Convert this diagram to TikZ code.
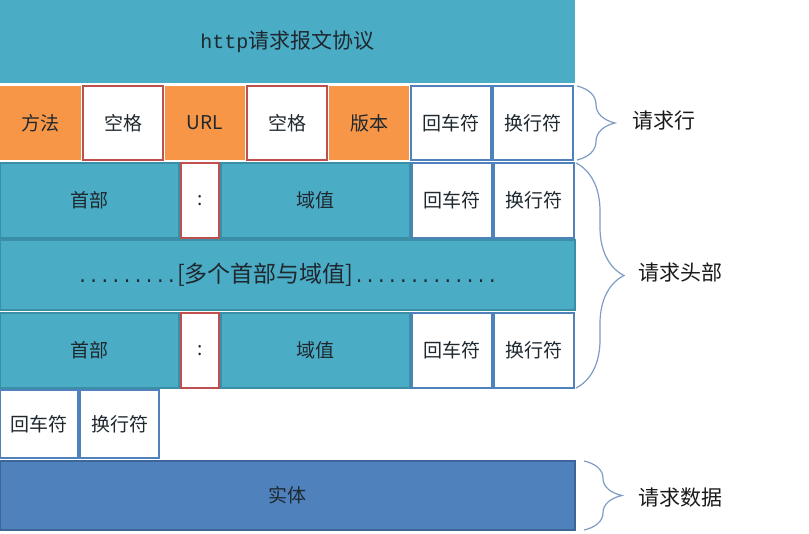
\documentclass[tikz,border=0pt]{standalone}
\usepackage{fontspec}
\setmainfont{Noto Sans CJK SC}
\newfontfamily\mono{Liberation Mono}
\usetikzlibrary{positioning,decorations.pathreplacing}

\definecolor{tealfill}{HTML}{4BACC6}
\definecolor{tealline}{HTML}{3A8EA6}
\definecolor{orangefill}{HTML}{F79646}
\definecolor{redline}{HTML}{C0504D}
\definecolor{blueline}{HTML}{4F81BD}
\definecolor{bodyfill}{HTML}{4F81BD}
\definecolor{bodyline}{HTML}{3C6699}
\definecolor{braceline}{HTML}{7E9CC4}
\definecolor{celltext}{HTML}{1E282E}
\definecolor{labeltext}{HTML}{1A1A1A}

\begin{document}
\begin{tikzpicture}[x=1pt,y=-1pt,
	node distance=2pt,
	cell/.style={minimum height=74pt, inner sep=0pt, outer sep=0pt, text=celltext, font=\fontsize{19}{19}\selectfont},
	orangecell/.style={cell, fill=orangefill, minimum width=80pt},
	spacecell/.style={cell, fill=white, draw=redline, line width=2pt, minimum width=80pt},
	crlfcell/.style={cell, fill=white, draw=blueline, line width=2pt, minimum width=80pt},
	tealcell/.style={cell, fill=tealfill, draw=tealline, line width=1.5pt},
	curly/.style={draw=braceline, line width=1.2pt, decorate, decoration={brace, amplitude=#1}},
	bracelabel/.style={anchor=west, inner sep=0pt, text=labeltext, font=\fontsize{21}{21}\selectfont}
	]
	\useasboundingbox (0,0) rectangle (809,534);
	
	% 1. 顶部标题
	\node [cell, fill=tealfill, anchor=north west, minimum width=575pt, minimum height=83pt,
		font=\fontsize{21}{21}\selectfont] (title) at (0,0) {{\mono\fontsize{20}{20}\selectfont http}请求报文协议};
	
	% 2. 请求行
	\node [orangecell, below=3pt of title.south west, anchor=north west, minimum width=81pt] (method) {方法};
	\node [spacecell, right=of method] (sp1) {空格};
	\node [orangecell, right=of sp1] (url) {URL};
	\node [spacecell, right=of url] (sp2) {空格};
	\node [orangecell, right=of sp2] (ver) {版本};
	\node [crlfcell, right=of ver] (cr1) {回车符};
	\node [crlfcell, right=of cr1] (lf1) {换行符};
	
	% 3. 请求头部（首部 : 域值 回车符 换行符）
	\node [tealcell, below=3pt of method.south west, anchor=north west, minimum width=179pt, minimum height=75pt] (hd1) {首部};
	\node [spacecell, right=of hd1, minimum width=38pt, minimum height=75pt] (col1) {:};
	\node [tealcell, right=of col1, minimum width=189pt, minimum height=75pt] (val1) {域值};
	\node [crlfcell, right=of val1, minimum height=75pt] (cr2) {回车符};
	\node [crlfcell, right=of cr2, minimum height=75pt] (lf2) {换行符};
	
	\node [tealcell, below=of hd1.south west, anchor=north west, minimum width=575pt, minimum height=70pt] (more)
		{{\mono\fontsize{18.5}{18.5}\selectfont .........}{\fontsize{23}{23}\selectfont[多个首部与域值]}{\mono\fontsize{18.5}{18.5}\selectfont .............}};
	
	\node [tealcell, below=3pt of more.south west, anchor=north west, minimum width=179pt, minimum height=75pt] (hd2) {首部};
	\node [spacecell, right=of hd2, minimum width=38pt, minimum height=75pt] (col2) {:};
	\node [tealcell, right=of col2, minimum width=189pt, minimum height=75pt] (val2) {域值};
	\node [crlfcell, right=of val2, minimum height=75pt] (cr3) {回车符};
	\node [crlfcell, right=of cr3, minimum height=75pt] (lf3) {换行符};
	
	% 4. 空行
	\node [crlfcell, below=of hd2.south west, anchor=north west, minimum width=78pt, minimum height=68pt] (cr4) {回车符};
	\node [crlfcell, right=of cr4, minimum width=79pt, minimum height=68pt] (lf4) {换行符};
	
	% 5. 请求数据
	\node [cell, fill=bodyfill, draw=bodyline, line width=1.5pt, below=3pt of cr4.south west, anchor=north west,
		minimum width=575pt, minimum height=69pt] (body) {实体};
	
	% 6. 右侧大括号与说明
	\draw [curly=38pt] ([xshift=4pt]lf1.north east) -- ([xshift=4pt]lf1.south east);
	\node [bracelabel] (linelabel) at (632,121) {请求行};
	
	\draw [curly=48pt] ([xshift=2pt]lf2.north east) -- ([xshift=2pt]lf3.south east);
	\node [bracelabel] (headlabel) at (638,273) {请求头部};
	
	\draw [curly=38pt] ([xshift=9pt]body.north east) -- ([xshift=9pt]body.south east);
	\node [bracelabel] (datalabel) at (638,498) {请求数据};
\end{tikzpicture}
\end{document}
